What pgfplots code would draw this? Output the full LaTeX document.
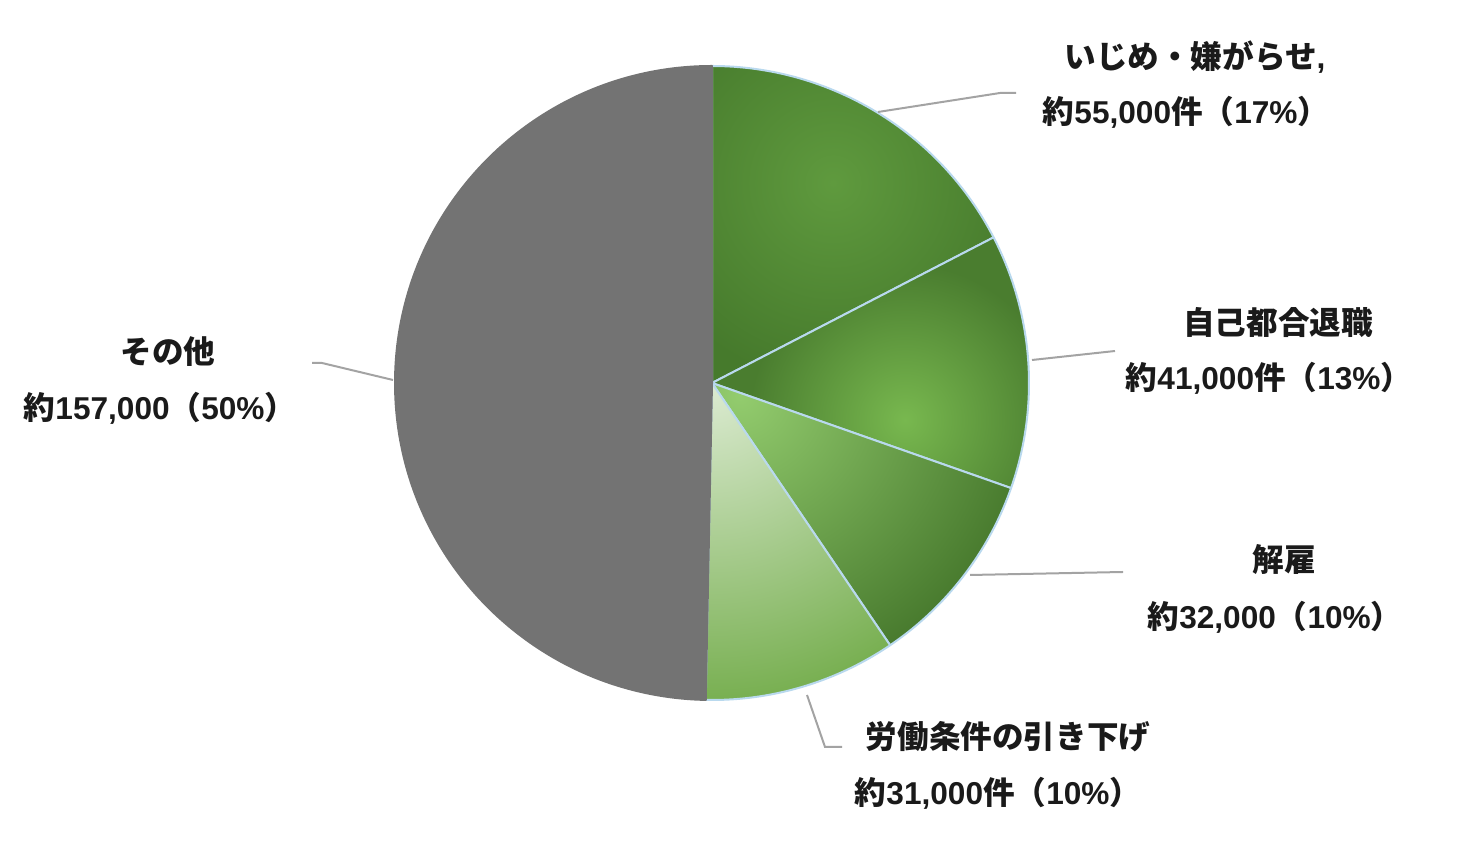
\documentclass[border=0pt]{standalone}
\usepackage{fontspec}
\setmainfont{Liberation Sans}
\newfontfamily\jp{Noto Sans CJK JP}
\usepackage{pgfplots}
\pgfplotsset{compat=1.18}
\usepackage{pgfplotstable}

\definecolor{txt}{HTML}{1A1A1A}
\definecolor{leadc}{HTML}{A3A3A3}
\definecolor{edge}{HTML}{B9D9EE}
\definecolor{oth}{HTML}{737373}
\definecolor{aIn}{HTML}{5F9A3E}\definecolor{aOut}{HTML}{467A2C}
\definecolor{bIn}{HTML}{78B84F}\definecolor{bOut}{HTML}{4A7D2F}
\definecolor{cIn}{HTML}{93CC6E}\definecolor{cOut}{HTML}{46782C}
\definecolor{dIn}{HTML}{DCEBD2}\definecolor{dOut}{HTML}{74AD4C}

\pgfplotsset{leader/.style={color=leadc, line width=1pt, no marks}}
\tikzset{lbl/.style={text=txt, font=\bfseries\fontsize{15.8}{18}\selectfont, inner sep=0pt, anchor=center}}
\newcommand\J[1]{{\jp #1}}

% counts, clockwise from 12 o'clock
\pgfplotstableread{
row value
0 55
1 41
2 32
3 31
4 157
}\piedata

% pie centre (px coords, y up) and radius
\def\pcx{712}\def\pcy{478}\def\prad{158.5pt}

% #1 row, #2 inner colour, #3 outer colour, #4 shade centre, #5 shade radius (px), #6 edge colour
\newcommand\pieslice[6]{%
  \pgfplotstablegetelem{#1}{value}\of\piedata
  \pgfmathsetmacro\sweep{\pgfplotsretval/\pietotal*360}%
  \pgfmathsetmacro\endang{\startang-\sweep}%
  \begin{scope}
    \clip (axis cs:\pcx,\pcy) -- ++(\startang:\prad)
      arc[start angle=\startang,end angle=\endang,radius=\prad] -- cycle;
    \fill[#3] (axis cs:\pcx,\pcy) circle[radius=330];
    \shade[inner color=#2,outer color=#3] (axis cs:#4) circle[radius=#5];
  \end{scope}
  \draw[#6,line width=1pt,line join=round] (axis cs:\pcx,\pcy) -- ++(\startang:\prad)
      arc[start angle=\startang,end angle=\endang,radius=\prad] -- cycle;
  \xdef\startang{\endang}%
}

\begin{document}
\begin{tikzpicture}
\begin{axis}[
    width=735.5pt, height=430.5pt, scale only axis,
    xmin=0, xmax=1471, ymin=0, ymax=861,
    hide axis, clip=false,
]
\pgfplotsextra{%
  \xdef\pietotal{0}%
  \pgfplotstableforeachcolumnelement{value}\of\piedata\as\val{%
    \pgfmathparse{\pietotal+\val}\xdef\pietotal{\pgfmathresult}}%
  \xdef\startang{90}%
  \pieslice{0}{aIn}{aOut}{833,678}{200}{edge}
  \pieslice{1}{bIn}{bOut}{905,441}{156}{edge}
  \pieslice{2}{cIn}{cOut}{740,466}{300}{edge}
  \pieslice{3}{dIn}{dOut}{712,478}{330}{edge}
  \pieslice{4}{oth}{oth}{712,478}{340}{oth}
}

% leader lines
\addplot[leader] coordinates {(878,749) (1000,768) (1016,768)};
\addplot[leader] coordinates {(1032,501) (1115,510)};
\addplot[leader] coordinates {(970,286) (1123,289)};
\addplot[leader] coordinates {(807,166) (825,114) (842,114)};
\addplot[leader] coordinates {(393,481) (322,498) (312,498)};

% labels
\node[lbl] at (axis cs:1195,804) {\J{いじめ・嫌がらせ}, };
\node[lbl] at (axis cs:1186,749) {\J{約}55,000\J{件（}17\%\J{）}};
\node[lbl] at (axis cs:1278,538) {\J{自己都合退職}};
\node[lbl] at (axis cs:1269,483) {\J{約}41,000\J{件（}13\%\J{）}};
\node[lbl] at (axis cs:1284,301) {\J{解雇}};
\node[lbl] at (axis cs:1275,244) {\J{約}32,000\J{（}10\%\J{）}};
\node[lbl] at (axis cs:1008,124) {\J{労働条件の引き下げ}};
\node[lbl] at (axis cs:998,68) {\J{約}31,000\J{件（}10\%\J{）}};
\node[lbl] at (axis cs:168,509) {\J{その他}};
\node[lbl] at (axis cs:160,453) {\J{約}157,000\J{（}50\%\J{）}};
\end{axis}
\pgfresetboundingbox
\path (current axis.south west) rectangle (current axis.north east);
\end{tikzpicture}
\end{document}
